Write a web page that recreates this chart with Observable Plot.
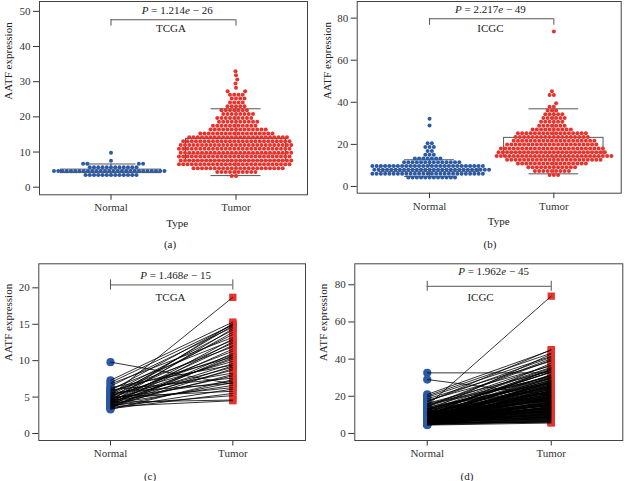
<!DOCTYPE html>
<html>
<head>
<meta charset="utf-8">
<script src="https://cdn.jsdelivr.net/npm/d3@7"></script>
<script src="https://cdn.jsdelivr.net/npm/@observablehq/plot@0.6"></script>
<style>
  html, body { margin: 0; padding: 0; background: #fff; }
  body { width: 626px; height: 481px; position: relative; overflow: hidden; font-family: "Liberation Serif", serif; }
  .panel { position: absolute; }
  .cap { position: absolute; font: 11px "Liberation Serif", serif; color: #222; transform: translate(-50%, -50%); white-space: nowrap; }
</style>
</head>
<body>
<div id="pa" class="panel" style="left:0px;top:0px"></div>
<div id="pb" class="panel" style="left:313px;top:0px"></div>
<div id="pc" class="panel" style="left:0px;top:250px"></div>
<div id="pd" class="panel" style="left:313px;top:250px"></div>
<div class="cap" style="left:170px;top:244px">(a)</div>
<div class="cap" style="left:490px;top:244px">(b)</div>
<div class="cap" style="left:150px;top:476px">(c)</div>
<div class="cap" style="left:467px;top:476px">(d)</div>
<script>
// ---------- data ----------
const categories = ["Normal", "Tumor"];
const pLabels = ["P = 1.214e − 26", "P = 2.217e − 49", "P = 1.468e − 15", "P = 1.962e − 45"];
const cohorts = ["TCGA", "ICGC", "TCGA", "ICGC"];

// (a) TCGA beeswarm: row value and number of samples in that row
const tcgaNormalRows   = [3.5, 4.6, 5.7, 6.7, 7.5, 9.8];
const tcgaNormalCounts = [13, 27, 12, 4, 1, 1];
const tcgaTumorRows    = [3.2, 4.3, 5.4, 6.5, 7.6, 8.7, 9.8, 10.9, 12.0, 13.1, 14.2, 15.3, 16.4, 17.5, 18.6, 19.7, 20.8, 21.9, 23.0, 24.1, 25.2, 26.3, 27.3, 28.3, 29.5, 30.6, 31.8, 33.0];
const tcgaTumorCounts  = [2, 10, 22, 27, 27, 27, 27, 27, 27, 26, 24, 18, 14, 11, 10, 9, 8, 7, 5, 4, 4, 4, 2, 1, 1, 1, 1, 1];
// (a) box summaries [Normal, Tumor]
const tcgaLow = [3.4, 3.3], tcgaQ1 = [4.0, 7.5], tcgaMed = [4.4, 9.5], tcgaQ3 = [5.0, 13.7], tcgaHigh = [6.6, 22.3];

// (b) ICGC beeswarm
const icgcNormalRows   = [4.3, 6.1, 7.9, 9.7, 11.5, 13.3, 15.1, 16.9, 18.7, 20.5, 29.0, 32.2];
const icgcNormalCounts = [12, 27, 28, 27, 14, 7, 3, 2, 3, 2, 1, 1];
const icgcTumorRows    = [5.5, 7.3, 9.1, 10.9, 12.7, 14.5, 16.3, 18.1, 19.9, 21.7, 23.5, 25.3, 27.1, 28.9, 30.7, 32.5, 34.3, 36.1, 37.9, 39.6, 43.5, 45.3, 73.6];
const icgcTumorCounts  = [3, 9, 12, 17, 23, 28, 26, 25, 22, 20, 18, 17, 10, 7, 6, 6, 5, 3, 2, 1, 2, 1, 1];
const icgcLow = [4.75, 6.0], icgcQ1 = [6.8, 13.9], icgcMed = [8.0, 16.3], icgcQ3 = [9.5, 23.1], icgcHigh = [12.7, 36.9];

// (c) TCGA paired samples
const tcgaPairNormal = [9.8, 5.2, 7.3, 7.0, 6.8, 6.5, 6.3, 6.1, 6.0, 5.9, 5.8, 5.7, 5.6, 5.5, 5.4, 5.3, 5.2, 5.1, 5.0, 5.0, 4.9, 4.8, 4.8, 4.7, 4.6, 4.6, 4.5, 4.5, 4.4, 4.4, 4.3, 4.3, 4.2, 4.2, 4.1, 4.1, 4.0, 4.0, 3.9, 3.9, 3.8, 3.8, 3.7, 3.7, 3.6, 3.6, 3.5, 3.5, 3.4, 3.3];
const tcgaPairTumor  = [6.8, 18.7, 15.3, 14.9, 13.2, 14.6, 9.4, 12.8, 7.6, 15.0, 10.5, 11.9, 6.9, 14.2, 8.3, 13.6, 9.9, 12.4, 5.8, 10.8, 14.8, 7.2, 11.3, 9.1, 13.9, 6.3, 15.1, 10.2, 8.7, 12.1, 4.6, 9.6, 14.4, 7.9, 11.6, 6.6, 10.4, 13.0, 8.1, 5.2, 9.3, 12.6, 7.0, 4.5, 11.0, 8.9, 6.1, 10.7, 5.5, 7.4];

// (d) ICGC paired samples
const icgcPairNormal = [32.6, 29.0, 15.0, 21.0, 20.2, 19.5, 18.6, 17.8, 16.9, 16.2, 15.5, 14.8, 14.1, 13.5, 13.0, 12.6, 12.2, 11.8, 11.5, 11.2, 10.9, 10.6, 10.4, 10.1, 9.9, 9.7, 9.5, 9.3, 9.1, 8.9, 8.8, 8.6, 8.4, 8.3, 8.1, 8.0, 7.8, 7.7, 7.6, 7.4, 7.3, 7.2, 7.0, 6.9, 6.8, 6.7, 6.6, 6.5, 6.4, 6.3, 6.2, 6.1, 6.0, 5.9, 5.8, 5.7, 5.6, 5.5, 5.4, 5.3, 5.2, 5.1, 5.0, 4.9, 4.8, 4.7, 4.6, 4.5,
  12.9, 11.0, 10.2, 9.6, 9.0, 8.5, 8.2, 7.9, 7.5, 7.1, 6.8, 6.4, 6.0, 5.7, 5.4, 5.1, 4.8, 10.8, 9.4, 8.7, 7.7, 7.0, 6.6, 6.2, 5.8, 5.5, 5.2, 14.5, 13.2, 11.6, 10.5, 9.8, 9.2, 8.6, 8.0, 7.4, 6.9, 6.3, 5.9, 5.3,
  8.2, 7.6, 7.1, 6.7, 6.3, 5.9, 5.6, 5.3, 5.0, 4.9, 9.3, 8.8, 8.1, 7.5, 6.9, 6.5, 6.1, 5.7, 5.4, 5.1, 10.3, 9.7, 9.0, 8.4, 7.8, 7.2, 6.8, 6.4, 6.0, 5.6,
  11.4, 10.7, 9.9, 9.1, 8.5, 7.9, 7.3, 6.7, 6.2, 5.8, 12.4, 11.3, 10.0, 8.9, 8.2, 7.6, 7.0, 6.5, 6.0, 5.5, 17.2, 16.0, 14.3, 13.4, 12.1, 11.1, 10.2, 9.2, 8.3, 7.5];
const icgcPairTumor  = [32.6, 20.5, 73.9, 44.8, 43.2, 41.5, 38.9, 36.4, 45.1, 33.8, 29.5, 40.2, 27.3, 35.6, 31.2, 24.8, 42.7, 26.1, 22.4, 33.0, 19.8, 28.7, 17.5, 30.4, 23.6, 16.2, 37.8, 21.3, 14.8, 25.5, 18.9, 34.5, 13.6, 27.9, 20.7, 15.3, 31.8, 12.4, 22.9, 17.1, 9.8, 26.4, 14.1, 19.2, 11.5, 24.0, 16.6, 8.7, 21.8, 13.0, 28.2, 10.6, 18.3, 7.6, 15.8, 23.1, 12.7, 9.2, 20.1, 6.8, 14.5, 17.9, 11.1, 8.1, 16.0, 6.2, 12.0, 5.6,
  30.9, 25.2, 19.4, 22.6, 14.0, 27.1, 11.8, 18.6, 9.5, 23.8, 13.3, 7.9, 16.9, 10.3, 20.8, 6.5, 12.9, 29.4, 21.1, 15.6, 24.5, 8.4, 17.4, 11.3, 19.0, 7.1, 13.8, 39.5, 26.8, 34.1, 18.1, 28.8, 15.1, 22.1, 10.0, 25.9, 13.5, 9.0, 16.4, 7.3,
  11.6, 27.6, 19.7, 8.9, 24.3, 14.6, 6.0, 21.5, 10.9, 17.0, 30.1, 13.1, 25.0, 9.6, 18.8, 7.7, 23.0, 12.2, 16.1, 6.6, 28.5, 20.3, 10.8, 26.2, 15.0, 22.8, 8.2, 19.5, 12.5, 14.2,
  33.2, 17.7, 24.9, 11.9, 29.9, 20.0, 13.9, 9.4, 23.3, 16.8, 35.2, 21.9, 31.4, 18.2, 26.9, 15.4, 22.3, 10.4, 19.9, 8.8, 41.0, 30.3, 36.8, 27.4, 32.9, 24.2, 34.7, 21.0, 28.0, 25.6];

// ---------- styling ----------
const blue = "#2b5aa7", red = "#e8322b", grey = "#555", ink = "#333";
const W = 313;
const baseStyle = {fontFamily: "Liberation Serif, serif", fontSize: "11px", color: ink, background: "transparent", overflow: "visible"};

function expand(rows, counts) {
  const out = [];
  rows.forEach((v, i) => { for (let k = 0; k < counts[i]; k++) out.push({value: v}); });
  return out.sort((a, b) => a.value - b.value);
}

function italicize(svg) {
  svg.querySelectorAll("text").forEach(t => {
    const m = /^P = ([\d.]+)e − (\d+)$/.exec(t.textContent);
    if (!m) return;
    t.textContent = "";
    for (const [s, it] of [["P", true], [" = " + m[1], false], ["e", true], [" − " + m[2], false]]) {
      const ts = document.createElementNS("http://www.w3.org/2000/svg", "tspan");
      ts.textContent = s;
      if (it) ts.setAttribute("font-style", "italic");
      t.appendChild(ts);
    }
  });
}

function commonAxes(o) {
  return [
    Plot.axisY({ticks: o.yTicks, tickSize: 6, tickPadding: 3, fontSize: 11, label: null}),
    Plot.axisX({ticks: [1, 2], tickFormat: i => categories[i - 1], tickSize: 5.5, tickPadding: 3, fontSize: 11, label: null}),
    Plot.text(["AATF expression"], {frameAnchor: "left", rotate: -90, dx: o.yTitleDx, dy: o.yTitleDy, fontSize: 11, fill: "#222"}),
    Plot.frame({stroke: "#444", strokeWidth: 1})
  ];
}

function swarmPanel(id, o) {
  const sx = Plot.scale({x: {domain: o.xDomain, range: [o.ml, W - o.mr]}});
  const mid = (o.ml + W - o.mr) / 2;
  const box = categories.map((c, i) => ({pos: i + 1, low: o.low[i], q1: o.q1[i], med: o.med[i], q3: o.q3[i], high: o.high[i]}));
  const marks = [
    Plot.ruleX(box, {x: "pos", y1: "low", y2: "q1", stroke: grey}),
    Plot.ruleX(box, {x: "pos", y1: "q3", y2: "high", stroke: grey}),
    Plot.rect(box, {x1: d => d.pos - 0.4, x2: d => d.pos + 0.4, y1: "q1", y2: "q3", stroke: grey, fill: "none"}),
    Plot.ruleY(box, {x1: d => d.pos - 0.4, x2: d => d.pos + 0.4, y: "med", stroke: grey}),
    Plot.ruleY(box, {x1: d => d.pos - 0.2, x2: d => d.pos + 0.2, y: "low", stroke: grey}),
    Plot.ruleY(box, {x1: d => d.pos - 0.2, x2: d => d.pos + 0.2, y: "high", stroke: grey})
  ];
  o.groups.forEach((g, i) => {
    marks.push(Plot.dot(expand(g.rows, g.counts), Plot.dodgeX({anchor: "middle", padding: 0.25},
      {y: "value", r: 2, fill: g.color, dx: sx.apply(i + 1) - mid})));
  });
  marks.push(
    Plot.ruleY([o.bracketY], {x1: 1, x2: 2, stroke: grey}),
    Plot.ruleX([1, 2], {x: d => d, y1: o.bracketLo, y2: o.bracketY, stroke: grey}),
    Plot.text([o.p], {x: o.pX, y: o.pY, text: d => d, fontSize: 11, fill: "#222"}),
    Plot.text([o.cohort], {x: o.cX, y: o.cY, text: d => d, fontSize: 11, fill: "#222"}),
    Plot.text(["Type"], {x: o.typeX, frameAnchor: "bottom", dy: 32, fontSize: 11, fill: "#222"}),
    ...commonAxes(o)
  );
  const svg = Plot.plot({
    width: W, height: o.H, marginLeft: o.ml, marginRight: o.mr, marginTop: o.mt, marginBottom: o.mb,
    x: {domain: o.xDomain}, y: {domain: o.yDomain},
    style: baseStyle, marks
  });
  italicize(svg);
  document.getElementById(id).append(svg);
}

function pairedPanel(id, o) {
  const pairs = d3.zip(o.normal, o.tumor).map(([n, t]) => ({n, t}));
  const marks = [
    Plot.dot(pairs, {x: () => 1, y: "n", r: 4.1, fill: blue}),
    Plot.dot(pairs, {x: () => 2, y: "t", r: 4.1, symbol: "square", fill: red}),
    Plot.link(pairs, {x1: () => 1, y1: "n", x2: () => 2, y2: "t", stroke: "#000", strokeWidth: 0.8}),
    Plot.ruleY([o.bracketY], {x1: 1, x2: 2, stroke: grey}),
    Plot.ruleX([1, 2], {x: d => d, y1: o.bracketLo, y2: o.bracketHi, stroke: grey}),
    Plot.text([o.p], {x: o.pX, y: o.pY, text: d => d, fontSize: 11, fill: "#222"}),
    Plot.text([o.cohort], {x: o.cX, y: o.cY, text: d => d, fontSize: 11, fill: "#222"}),
    ...commonAxes(o)
  ];
  const svg = Plot.plot({
    width: W, height: o.H, marginLeft: o.ml, marginRight: o.mr, marginTop: o.mt, marginBottom: o.mb,
    x: {domain: o.xDomain}, y: {domain: o.yDomain},
    style: baseStyle, marks
  });
  italicize(svg);
  document.getElementById(id).append(svg);
}

swarmPanel("pa", {
  H: 250, ml: 39, mr: 6, mt: 1, mb: 55.7, xDomain: [0.428, 2.572], yDomain: [-2.16, 52.8], yTicks: [0, 10, 20, 30, 40, 50],
  groups: [{rows: tcgaNormalRows, counts: tcgaNormalCounts, color: blue}, {rows: tcgaTumorRows, counts: tcgaTumorCounts, color: red}],
  low: tcgaLow, q1: tcgaQ1, med: tcgaMed, q3: tcgaQ3, high: tcgaHigh,
  bracketY: 47.6, bracketLo: 45.8, p: pLabels[0], pX: 1.53, pY: 50.2, cohort: cohorts[0], cX: 1.48, cY: 45.0,
  typeX: 1.53, yTitleDx: -31.5, yTitleDy: 1.5
});
swarmPanel("pb", {
  H: 250, ml: 43.7, mr: 5.3, mt: 1, mb: 57.3, xDomain: [0.418, 2.542], yDomain: [-3.2, 87.9], yTicks: [0, 20, 40, 60, 80],
  groups: [{rows: icgcNormalRows, counts: icgcNormalCounts, color: blue}, {rows: icgcTumorRows, counts: icgcTumorCounts, color: red}],
  low: icgcLow, q1: icgcQ1, med: icgcMed, q3: icgcQ3, high: icgcHigh,
  bracketY: 79.7, bracketLo: 76.6, p: pLabels[1], pX: 1.49, pY: 84.1, cohort: cohorts[1], cX: 1.49, cY: 75.1,
  typeX: 1.557, yTitleDx: -30, yTitleDy: 2
});
pairedPanel("pc", {
  H: 231, ml: 38.3, mr: 8, mt: 13.3, mb: 41, xDomain: [0.414, 2.594], yDomain: [-0.96, 23.3], yTicks: [0, 5, 10, 15, 20],
  normal: tcgaPairNormal, tumor: tcgaPairTumor,
  bracketY: 20.4, bracketLo: 19.7, bracketHi: 21.1, p: pLabels[2], pX: 1.532, pY: 21.7, cohort: cohorts[2], cX: 1.491, cY: 18.7,
  yTitleDx: -30, yTitleDy: 9
});
pairedPanel("pd", {
  H: 231, ml: 41.3, mr: 3.7, mt: 13.3, mb: 41, xDomain: [0.416, 2.577], yDomain: [-3.8, 91.3], yTicks: [0, 20, 40, 60, 80],
  normal: icgcPairNormal, tumor: icgcPairTumor,
  bracketY: 79.2, bracketLo: 76.5, bracketHi: 81.9, p: pLabels[3], pX: 1.535, pY: 87.1, cohort: cohorts[3], cX: 1.43, cY: 73.3,
  yTitleDx: -31, yTitleDy: 9
});
</script>
</body>
</html>
